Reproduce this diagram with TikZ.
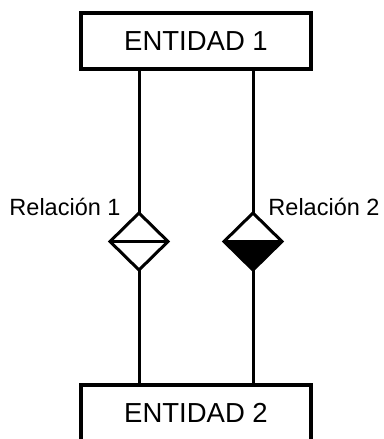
\documentclass[tikz,border=0pt]{standalone}
\usepackage{fontspec}
\setmainfont{Liberation Sans}
\usetikzlibrary{shapes.geometric}
\begin{document}
\begin{tikzpicture}[x=1pt,y=-1pt,
  entity/.style={draw,line width=3.2pt,minimum width=230pt,minimum height=56pt,inner sep=0pt,outer sep=0pt,font=\fontsize{27.5}{30}\selectfont},
  rel/.style={draw,diamond,line width=3pt,minimum width=58pt,minimum height=57pt,inner sep=0pt,outer sep=0pt},
  lbl/.style={font=\fontsize{23.5}{26}\selectfont,inner sep=0pt},
  conn/.style={line width=3pt}]
\useasboundingbox (0,0) rectangle (383,439);
\node[entity] (e1) at (196,41) {ENTIDAD 1};
\node[entity] (e2) at (196,413) {ENTIDAD 2};
\node[rel] (d1) at (139,241.5) {};
\node[rel] (d2) at (253,241.5) {};
\fill (d2.west) -- (d2.south) -- (d2.east) -- cycle;
\draw[conn] (d1.west) -- (d1.east);
\draw[conn] (d2.west) -- (d2.east);
\draw[conn] (d1.north) -- (d1.north |- e1.south);
\draw[conn] (d2.north) -- (d2.north |- e1.south);
\draw[conn] (d1.south) -- (d1.south |- e2.north);
\draw[conn] (d2.south) -- (d2.south |- e2.north);
\node[lbl] (l1) at (65,207) {Relación 1};
\node[lbl] (l2) at (324,207) {Relación 2};
\end{tikzpicture}
\end{document}
